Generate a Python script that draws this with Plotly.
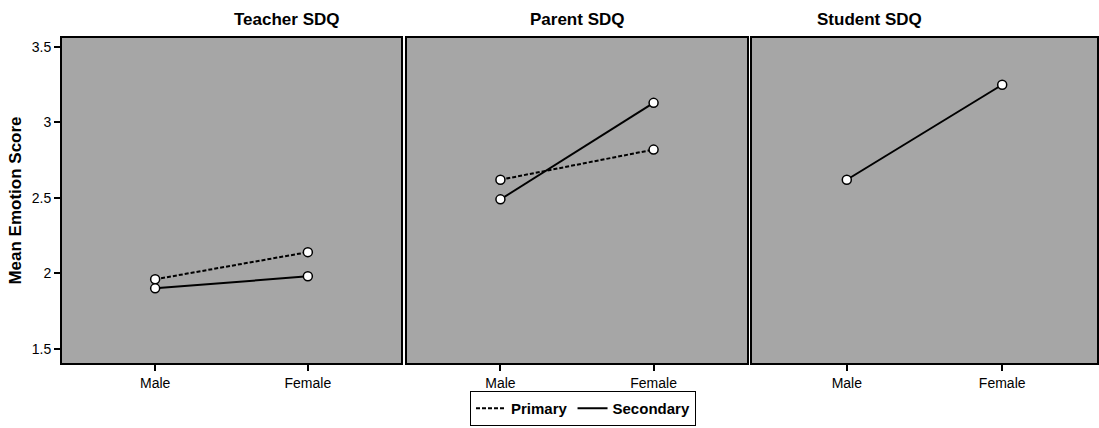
import plotly.graph_objects as go
from plotly.subplots import make_subplots

panels = ["Teacher SDQ", "Parent SDQ", "Student SDQ"]
genders = ["Male", "Female"]

teacher_primary = [1.96, 2.14]
teacher_secondary = [1.90, 1.98]
parent_primary = [2.62, 2.82]
parent_secondary = [2.49, 3.13]
student_secondary = [2.62, 3.25]

y_ticks = [1.5, 2, 2.5, 3, 3.5]
y_tick_labels = ["1.5", "2", "2.5", "3", "3.5"]

fig = make_subplots(rows=1, cols=3, shared_yaxes=True, horizontal_spacing=0.003)

W, H = 1099, 428
ML, MR, MT, MB = 62, 2, 38, 65
pw = W - ML - MR
doms = [(0, 339 / pw), (345 / pw, 685 / pw), (690 / pw, 1.0)]

primary_style = dict(color="black", width=2, dash="4px,2px")
secondary_style = dict(color="black", width=2)
marker = dict(symbol="circle", size=9, color="white", line=dict(color="black", width=1.5))

series = [
    (1, teacher_primary, primary_style),
    (1, teacher_secondary, secondary_style),
    (2, parent_primary, primary_style),
    (2, parent_secondary, secondary_style),
    (3, student_secondary, secondary_style),
]
for col, vals, line in series:
    fig.add_trace(
        go.Scatter(x=genders, y=vals, mode="lines+markers",
                   line=line, marker=marker, showlegend=False),
        row=1, col=col,
    )

# line-only entries for the legend key
for name, line in [("Primary", primary_style), ("Secondary", secondary_style)]:
    fig.add_trace(go.Scatter(x=[None], y=[None], mode="lines", name=name, line=line),
                  row=1, col=1)

for i in range(3):
    fig.update_xaxes(
        domain=list(doms[i]), type="category", range=[-0.61, 1.61],
        showline=True, linecolor="black", linewidth=2, mirror=True,
        ticks="outside", ticklen=6, tickwidth=2, tickcolor="black",
        showgrid=False, zeroline=False,
        tickfont=dict(family="Arial", size=14, color="black"),
        row=1, col=i + 1,
    )
    fig.update_yaxes(
        range=[1.405, 3.56], tickvals=y_ticks, ticktext=y_tick_labels,
        showline=True, linecolor="black", linewidth=2, mirror=True,
        ticks="outside" if i == 0 else "", ticklen=6, tickwidth=2, tickcolor="black",
        showticklabels=(i == 0), showgrid=False, zeroline=False,
        tickfont=dict(family="Arial", size=14, color="black"),
        row=1, col=i + 1,
    )

fig.update_yaxes(
    title=dict(text="<b>Mean Emotion Score</b>", font=dict(family="Arial", size=17, color="black"),
               standoff=6),
    row=1, col=1,
)

for i, name in enumerate(panels):
    fig.add_annotation(
        text=f"<b>{name}</b>", x=(doms[i][0] + doms[i][1]) / 2, y=1.0,
        xref="paper", yref="paper", yanchor="bottom", yshift=7, showarrow=False,
        font=dict(family="Arial", size=17, color="black"),
    )

fig.update_layout(
    width=W, height=H,
    margin=dict(l=ML, r=MR, t=MT, b=MB, autoexpand=False),
    paper_bgcolor="white", plot_bgcolor="#a6a6a6",
    legend=dict(
        orientation="h", x=583 / W, xref="container", xanchor="center",
        y=2 / H, yref="container", yanchor="bottom",
        bordercolor="black", borderwidth=1, bgcolor="white",
        font=dict(family="Arial", size=15, color="black", weight="bold"),
        itemwidth=30, tracegroupgap=0,
    ),
    font=dict(family="Arial"),
)

fig.write_html("out.html")
